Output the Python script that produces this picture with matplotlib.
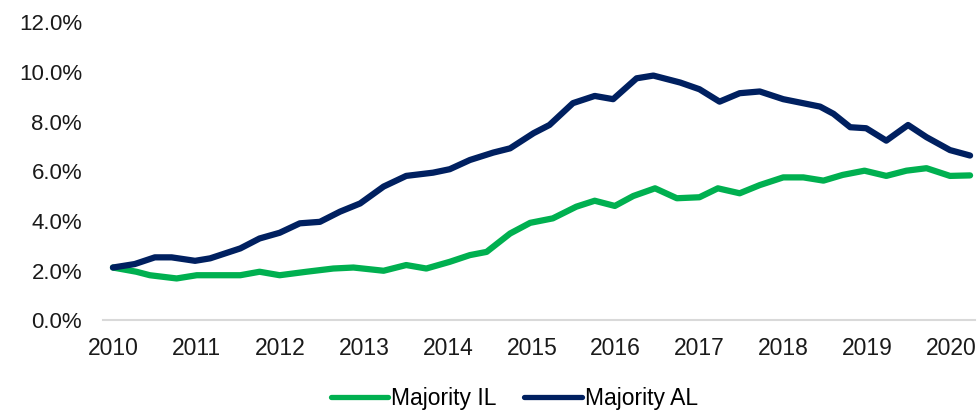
import matplotlib
matplotlib.use("Agg")
import matplotlib.pyplot as plt
from matplotlib.ticker import FuncFormatter

# values (decimal year, percent)
al_years = [2010.00, 2010.26, 2010.50, 2010.70, 2010.98, 2011.16, 2011.52, 2011.75,
            2011.99, 2012.23, 2012.47, 2012.71, 2012.95, 2013.23, 2013.50, 2013.82,
            2014.02, 2014.26, 2014.54, 2014.74, 2015.02, 2015.21, 2015.49, 2015.75,
            2015.97, 2016.25, 2016.45, 2016.77, 2017.00, 2017.24, 2017.48, 2017.72,
            2018.00, 2018.44, 2018.60, 2018.80, 2018.99, 2019.23, 2019.49, 2019.71,
            2019.99, 2020.23]
al_vals = [2.12, 2.26, 2.53, 2.53, 2.39, 2.49, 2.89, 3.29,
           3.52, 3.90, 3.96, 4.37, 4.70, 5.38, 5.81, 5.94,
           6.08, 6.45, 6.75, 6.92, 7.53, 7.86, 8.74, 9.03,
           8.90, 9.74, 9.85, 9.57, 9.30, 8.80, 9.14, 9.21,
           8.90, 8.60, 8.31, 7.77, 7.73, 7.23, 7.86, 7.37,
           6.85, 6.63]

il_years = [2010.00, 2010.28, 2010.44, 2010.76, 2011.00, 2011.52, 2011.75, 2011.99,
            2012.31, 2012.63, 2012.87, 2013.23, 2013.50, 2013.74, 2014.02, 2014.26,
            2014.46, 2014.74, 2014.98, 2015.25, 2015.53, 2015.75, 2015.99, 2016.21,
            2016.47, 2016.73, 2017.00, 2017.22, 2017.48, 2017.72, 2018.00, 2018.24,
            2018.48, 2018.71, 2018.97, 2019.23, 2019.47, 2019.71, 2019.99, 2020.23]
il_vals = [2.12, 1.95, 1.81, 1.68, 1.81, 1.81, 1.95, 1.81,
           1.95, 2.08, 2.12, 1.99, 2.22, 2.08, 2.35, 2.62,
           2.75, 3.49, 3.92, 4.10, 4.57, 4.81, 4.60, 5.00,
           5.31, 4.91, 4.95, 5.31, 5.11, 5.44, 5.75, 5.75,
           5.62, 5.85, 6.02, 5.81, 6.02, 6.12, 5.81, 5.83]

year_ticks = list(range(2010, 2021))
pct_ticks = [0, 2, 4, 6, 8, 10, 12]

GREEN = "#00b050"
NAVY = "#002060"

fig = plt.figure(figsize=(9.8, 4.11), dpi=100)
ax = fig.add_axes([0.105, 0.221, 0.89, 0.725])

ax.plot(il_years, il_vals, color=GREEN, lw=4.5, solid_capstyle="round",
        solid_joinstyle="round", label="Majority IL")
ax.plot(al_years, al_vals, color=NAVY, lw=4.5, solid_capstyle="round",
        solid_joinstyle="round", label="Majority AL")

ax.set_xlim(2009.88, 2020.29)
ax.set_ylim(0, 12)
ax.set_xticks(year_ticks)
ax.set_xticklabels([str(y) for y in year_ticks])
ax.set_yticks(pct_ticks)
ax.yaxis.set_major_formatter(FuncFormatter(lambda v, _: f"{v:.1f}%"))

for s in ["top", "right", "left"]:
    ax.spines[s].set_visible(False)
ax.spines["bottom"].set_color("#d9d9d9")
ax.spines["bottom"].set_linewidth(1.5)
ax.tick_params(axis="both", length=0, colors="#1a1a1a")
ax.tick_params(axis="y", labelsize=16, pad=15)
ax.tick_params(axis="x", labelsize=16.5, pad=12)
for lab in ax.get_xticklabels() + ax.get_yticklabels():
    lab.set_fontfamily("Liberation Sans")

leg = fig.legend(loc="center", bbox_to_anchor=(0.525, 0.03), ncol=2, frameon=False,
                 handlelength=2.5, handletextpad=0.15, columnspacing=1.2,
                 prop={"family": "Liberation Sans", "size": 16.5})
for line in leg.get_lines():
    line.set_linewidth(3.8)

fig.savefig("out.png", dpi=100)
